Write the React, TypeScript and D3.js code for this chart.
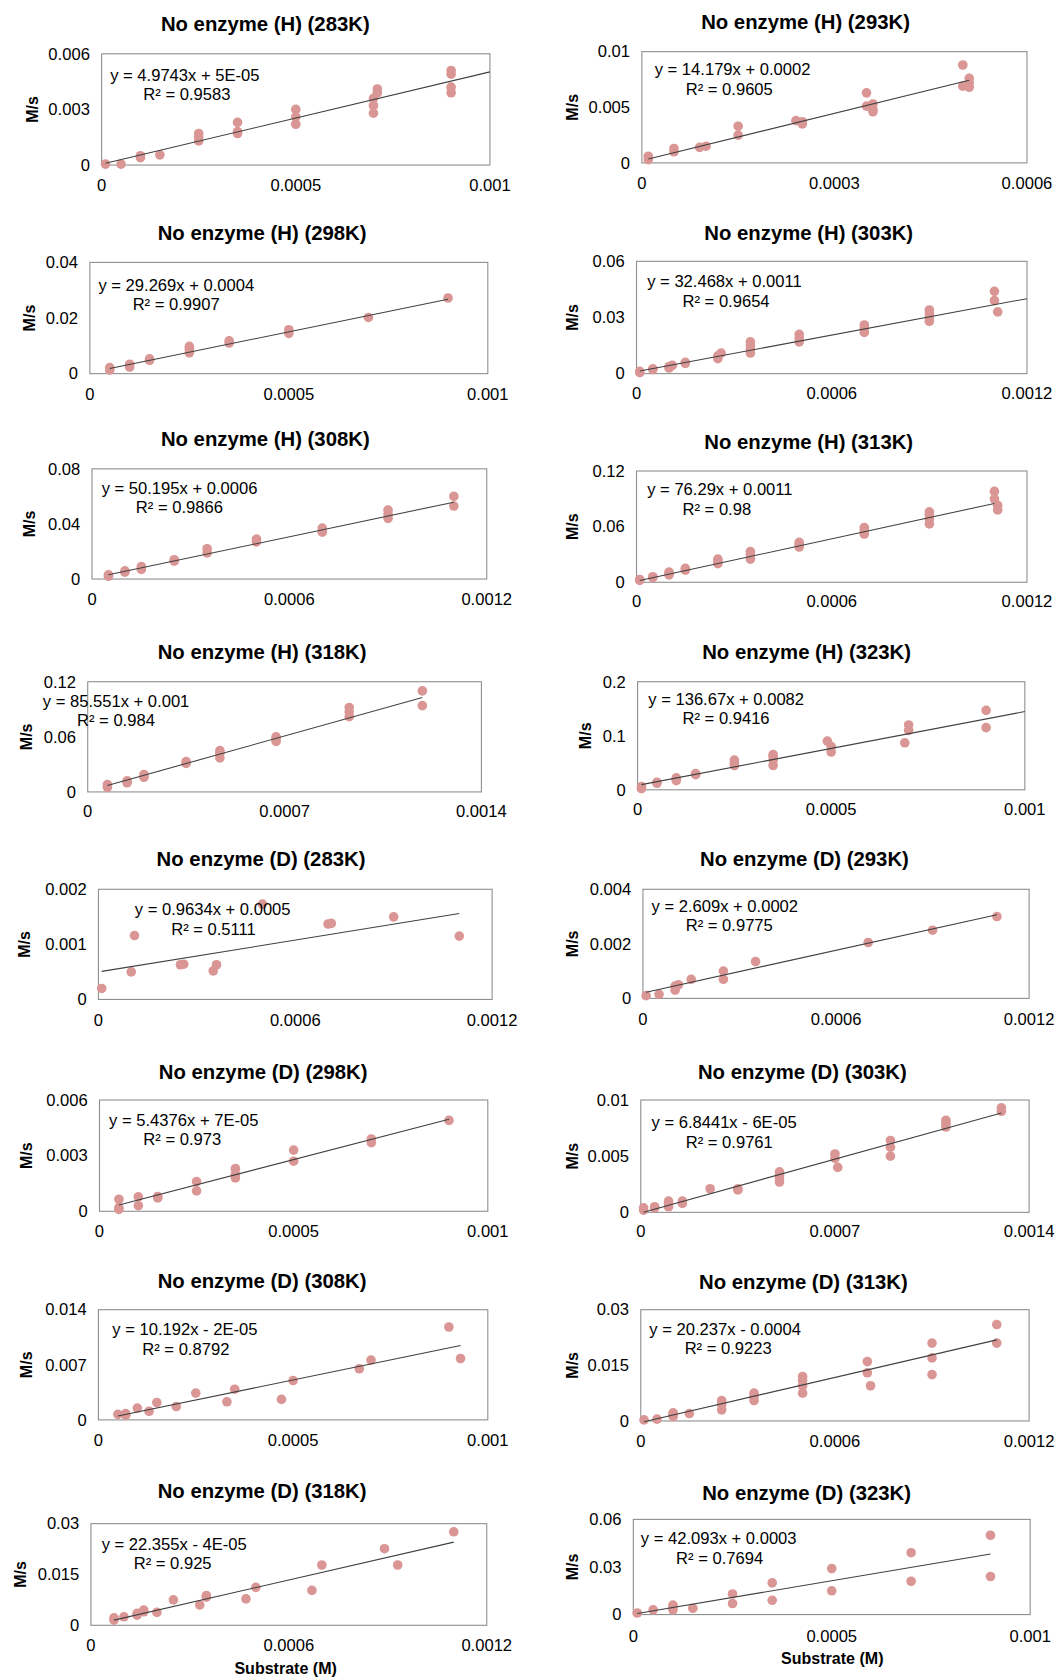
import React from 'react';
import * as d3 from 'd3';

// page is drawn in the coordinates of the 989x1568 view and scaled to 1058x1678
const VW = 989;
const VH = 1568;

const titles = [
  'No enzyme (H) (283K)', 'No enzyme (H) (293K)',
  'No enzyme (H) (298K)', 'No enzyme (H) (303K)',
  'No enzyme (H) (308K)', 'No enzyme (H) (313K)',
  'No enzyme (H) (318K)', 'No enzyme (H) (323K)',
  'No enzyme (D) (283K)', 'No enzyme (D) (293K)',
  'No enzyme (D) (298K)', 'No enzyme (D) (303K)',
  'No enzyme (D) (308K)', 'No enzyme (D) (313K)',
  'No enzyme (D) (318K)', 'No enzyme (D) (323K)',
];

const xTickLabels = [
  ['0', '0.0005', '0.001'], ['0', '0.0003', '0.0006'],
  ['0', '0.0005', '0.001'], ['0', '0.0006', '0.0012'],
  ['0', '0.0006', '0.0012'], ['0', '0.0006', '0.0012'],
  ['0', '0.0007', '0.0014'], ['0', '0.0005', '0.001'],
  ['0', '0.0006', '0.0012'], ['0', '0.0006', '0.0012'],
  ['0', '0.0005', '0.001'], ['0', '0.0007', '0.0014'],
  ['0', '0.0005', '0.001'], ['0', '0.0006', '0.0012'],
  ['0', '0.0006', '0.0012'], ['0', '0.0005', '0.001'],
];

const yTickLabels = [
  ['0', '0.003', '0.006'], ['0', '0.005', '0.01'],
  ['0', '0.02', '0.04'], ['0', '0.03', '0.06'],
  ['0', '0.04', '0.08'], ['0', '0.06', '0.12'],
  ['0', '0.06', '0.12'], ['0', '0.1', '0.2'],
  ['0', '0.001', '0.002'], ['0', '0.002', '0.004'],
  ['0', '0.003', '0.006'], ['0', '0.005', '0.01'],
  ['0', '0.007', '0.014'], ['0', '0.015', '0.03'],
  ['0', '0.015', '0.03'], ['0', '0.03', '0.06'],
];

// trendline fits: slope, intercept, x range
const slopes = [4.9743, 14.179, 29.269, 32.468, 50.195, 76.29, 85.551, 136.67,
  0.9634, 2.609, 5.4376, 6.8441, 10.192, 20.237, 22.355, 42.093];
const intercepts = [5e-5, 0.0002, 0.0004, 0.0011, 0.0006, 0.0011, 0.001, 0.0082,
  0.0005, 0.0002, 7e-5, -6e-5, -2e-5, -0.0004, -4e-5, 0.0003];
const trendFrom = [0.00001, 0.00001, 0.00005, 0.00001, 0.00005, 0.00001, 0.00007, 0.00001,
  0.00001, 0.00001, 0.00005, 0.00001, 0.00005, 0.00001, 0.00007, 0.00001];
const trendTo = [0.001, 0.00051, 0.0009, 0.0012, 0.0011, 0.0011, 0.00119, 0.001,
  0.0011, 0.0011, 0.0009, 0.0013, 0.00093, 0.0011, 0.0011, 0.0009];

const equations = [
  'y = 4.9743x + 5E-05', 'y = 14.179x + 0.0002',
  'y = 29.269x + 0.0004', 'y = 32.468x + 0.0011',
  'y = 50.195x + 0.0006', 'y = 76.29x + 0.0011',
  'y = 85.551x + 0.001', 'y = 136.67x + 0.0082',
  'y = 0.9634x + 0.0005', 'y = 2.609x + 0.0002',
  'y = 5.4376x + 7E-05', 'y = 6.8441x - 6E-05',
  'y = 10.192x - 2E-05', 'y = 20.237x - 0.0004',
  'y = 22.355x - 4E-05', 'y = 42.093x + 0.0003',
];
const rSquared = [
  'R² = 0.9583', 'R² = 0.9605', 'R² = 0.9907', 'R² = 0.9654',
  'R² = 0.9866', 'R² = 0.98', 'R² = 0.984', 'R² = 0.9416',
  'R² = 0.5111', 'R² = 0.9775', 'R² = 0.973', 'R² = 0.9761',
  'R² = 0.8792', 'R² = 0.9223', 'R² = 0.925', 'R² = 0.7694',
];

// measured points [substrate M, rate M/s]
const h283 = [[0.00001, 0.00005], [0.00005, 0.00005], [0.0001, 0.0004], [0.0001, 0.0005], [0.00015, 0.00055],
  [0.00025, 0.0013], [0.00025, 0.0015], [0.00025, 0.0017], [0.00035, 0.0017], [0.00035, 0.0018], [0.00035, 0.0023],
  [0.0005, 0.0022], [0.0005, 0.0026], [0.0005, 0.003], [0.0007, 0.0028], [0.0007, 0.0032], [0.0007, 0.0036],
  [0.00071, 0.0039], [0.00071, 0.0041], [0.0009, 0.0039], [0.0009, 0.0042], [0.0009, 0.0049], [0.0009, 0.0051]];
const h293 = [[0.00001, 0.0003], [0.00001, 0.0006], [0.00005, 0.001], [0.00005, 0.0013], [0.00009, 0.0014],
  [0.0001, 0.0015], [0.00015, 0.0025], [0.00015, 0.0033], [0.00024, 0.0038], [0.00025, 0.0035], [0.00025, 0.0037],
  [0.00035, 0.0063], [0.00035, 0.0051], [0.00036, 0.0053], [0.00036, 0.0048], [0.00036, 0.0046],
  [0.0005, 0.0088], [0.00051, 0.0076], [0.00051, 0.0072], [0.0005, 0.0069], [0.00051, 0.0068]];
const h298 = [[0.00005, 0.0013], [0.00005, 0.0022], [0.0001, 0.0024], [0.0001, 0.0034], [0.00015, 0.0048],
  [0.00015, 0.0053], [0.00025, 0.0075], [0.00025, 0.0088], [0.00025, 0.0098], [0.00035, 0.011], [0.00035, 0.0118],
  [0.0005, 0.0145], [0.0005, 0.0158], [0.0007, 0.0202], [0.0009, 0.0272]];
const h303 = [[0.00001, 0.0005], [0.00001, 0.0012], [0.00005, 0.0022], [0.00005, 0.0026], [0.0001, 0.003],
  [0.0001, 0.0038], [0.00011, 0.0044], [0.00015, 0.0055], [0.00015, 0.006], [0.00025, 0.008], [0.00025, 0.0095],
  [0.00026, 0.011], [0.00035, 0.011], [0.00035, 0.013], [0.00035, 0.015], [0.00035, 0.017], [0.0005, 0.017],
  [0.0005, 0.019], [0.0005, 0.021], [0.0007, 0.022], [0.0007, 0.024], [0.0007, 0.026], [0.0009, 0.028],
  [0.0009, 0.03], [0.0009, 0.032], [0.0009, 0.034], [0.0011, 0.044], [0.0011, 0.039], [0.00111, 0.033]];
const h308 = [[0.00005, 0.002], [0.00005, 0.003], [0.0001, 0.005], [0.0001, 0.006], [0.00015, 0.007],
  [0.00015, 0.009], [0.00025, 0.013], [0.00025, 0.014], [0.00035, 0.019], [0.00035, 0.022], [0.0005, 0.027],
  [0.0005, 0.029], [0.0007, 0.034], [0.0007, 0.037], [0.0009, 0.044], [0.0009, 0.047], [0.0009, 0.05],
  [0.0011, 0.06], [0.0011, 0.053]];
const h313 = [[0.00001, 0.002], [0.00001, 0.003], [0.00005, 0.005], [0.00005, 0.006], [0.0001, 0.008],
  [0.0001, 0.01], [0.0001, 0.011], [0.00015, 0.013], [0.00015, 0.015], [0.00025, 0.02], [0.00025, 0.023],
  [0.00025, 0.025], [0.00035, 0.025], [0.00035, 0.03], [0.00035, 0.033], [0.0005, 0.038], [0.0005, 0.041],
  [0.0005, 0.043], [0.0007, 0.052], [0.0007, 0.056], [0.0007, 0.059], [0.0009, 0.063], [0.0009, 0.068],
  [0.0009, 0.073], [0.0009, 0.076], [0.0011, 0.098], [0.0011, 0.09], [0.00111, 0.083], [0.00111, 0.078]];
const h318 = [[0.00007, 0.005], [0.00007, 0.008], [0.00014, 0.01], [0.00014, 0.012], [0.0002, 0.016],
  [0.0002, 0.019], [0.00035, 0.031], [0.00035, 0.033], [0.00047, 0.037], [0.00047, 0.042], [0.00047, 0.045],
  [0.00067, 0.055], [0.00067, 0.058], [0.00067, 0.06], [0.00093, 0.082], [0.00093, 0.087], [0.00093, 0.092],
  [0.00119, 0.094], [0.00119, 0.11]];
const h323 = [[0.00001, 0.002], [0.00001, 0.006], [0.00005, 0.012], [0.00005, 0.014], [0.0001, 0.017],
  [0.0001, 0.02], [0.0001, 0.022], [0.00015, 0.028], [0.00015, 0.03], [0.00025, 0.045], [0.00025, 0.05],
  [0.00025, 0.055], [0.00035, 0.045], [0.00035, 0.055], [0.00035, 0.062], [0.00035, 0.065], [0.0005, 0.07],
  [0.0005, 0.08], [0.00049, 0.09], [0.00069, 0.087], [0.0007, 0.11], [0.0007, 0.12], [0.0009, 0.115], [0.0009, 0.147]];
const d283 = [[0.00001, 0.0002], [0.0001, 0.0005], [0.00011, 0.00116], [0.00025, 0.00063], [0.00026, 0.00064],
  [0.00035, 0.00052], [0.00036, 0.00063], [0.0005, 0.00173], [0.0007, 0.00137], [0.00071, 0.00138],
  [0.0009, 0.0015], [0.0011, 0.00115]];
const d293 = [[0.00001, 0.0001], [0.00005, 0.00015], [0.0001, 0.0003], [0.0001, 0.00045], [0.00011, 0.0005],
  [0.00015, 0.0007], [0.00025, 0.0007], [0.00025, 0.001], [0.00035, 0.00135], [0.0007, 0.00205],
  [0.0009, 0.0025], [0.0011, 0.003]];
const d298 = [[0.00005, 0.00065], [0.00005, 0.0002], [0.00005, 0.0001], [0.0001, 0.00078], [0.0001, 0.0003],
  [0.00015, 0.0008], [0.00015, 0.00072], [0.00025, 0.0016], [0.00025, 0.0011], [0.00035, 0.0023],
  [0.00035, 0.002], [0.00035, 0.0018], [0.0005, 0.0033], [0.0005, 0.0027], [0.0007, 0.0039], [0.0007, 0.0037],
  [0.0009, 0.0049]];
const d303 = [[0.00001, 0.0002], [0.00001, 0.0004], [0.00005, 0.0004], [0.00005, 0.0005], [0.0001, 0.0005],
  [0.0001, 0.0008], [0.0001, 0.001], [0.00015, 0.0008], [0.00015, 0.001], [0.00025, 0.0021], [0.00035, 0.002],
  [0.00035, 0.0021], [0.0005, 0.0027], [0.0005, 0.003], [0.0005, 0.0033], [0.0005, 0.0036], [0.0007, 0.0052],
  [0.0007, 0.0048], [0.00071, 0.004], [0.0009, 0.0064], [0.0009, 0.0058], [0.0009, 0.005], [0.0011, 0.0082],
  [0.0011, 0.0079], [0.0011, 0.0076], [0.0013, 0.0093], [0.0013, 0.009]];
const d308 = [[0.00005, 0.0007], [0.00007, 0.0008], [0.00007, 0.0006], [0.0001, 0.0015], [0.00013, 0.0011],
  [0.00015, 0.0022], [0.0002, 0.0017], [0.00025, 0.0034], [0.00033, 0.0023], [0.00035, 0.0039],
  [0.00047, 0.0026], [0.0005, 0.005], [0.00067, 0.0065], [0.0007, 0.0076], [0.0009, 0.0118], [0.00093, 0.0078]];
const d313 = [[0.00001, 0.0003], [0.00005, 0.0005], [0.0001, 0.0012], [0.0001, 0.0018], [0.0001, 0.0022],
  [0.00015, 0.002], [0.00025, 0.0055], [0.00025, 0.0045], [0.00025, 0.003], [0.00035, 0.0075], [0.00035, 0.0065],
  [0.00035, 0.0055], [0.0005, 0.0075], [0.0005, 0.0095], [0.0005, 0.011], [0.0005, 0.012], [0.0007, 0.016],
  [0.0007, 0.013], [0.00071, 0.0095], [0.0009, 0.021], [0.0009, 0.017], [0.0009, 0.0125], [0.0011, 0.026],
  [0.0011, 0.021]];
const d318 = [[0.00007, 0.0015], [0.00007, 0.0022], [0.0001, 0.0025], [0.00014, 0.003], [0.00014, 0.0035],
  [0.00016, 0.0045], [0.00016, 0.004], [0.0002, 0.0038], [0.00025, 0.0075], [0.00033, 0.006], [0.00035, 0.0088],
  [0.00035, 0.0083], [0.00047, 0.0078], [0.0005, 0.0112], [0.00067, 0.0103], [0.0007, 0.0178],
  [0.00089, 0.0226], [0.00093, 0.0178], [0.0011, 0.0276]];
const d323 = [[0.00001, 0.001], [0.00005, 0.003], [0.0001, 0.005], [0.0001, 0.006], [0.0001, 0.003],
  [0.00015, 0.004], [0.00025, 0.013], [0.00025, 0.007], [0.00035, 0.02], [0.00035, 0.009], [0.0005, 0.015],
  [0.0005, 0.029], [0.0007, 0.039], [0.0007, 0.021], [0.0009, 0.05], [0.0009, 0.024]];

const series = [h283, h293, h298, h303, h308, h313, h318, h323,
  d283, d293, d298, d303, d308, d313, d318, d323];

// layout of each panel in view units: plot box, title, equation, axis text
const layout = [
  { x0: 95, x1: 458, y0: 50, y1: 154, tx: 248, ty: 22, ex: 103, ey: 70, rx: 134, ry: 88, lx: 30, xt: 173 },
  { x0: 600, x1: 960, y0: 48, y1: 152, tx: 753, ty: 20, ex: 612, ey: 64, rx: 641, ry: 83, lx: 535, xt: 171 },
  { x0: 84, x1: 456, y0: 245, y1: 349, tx: 245, ty: 217, ex: 92, ey: 266, rx: 124, ry: 284, lx: 27, xt: 368 },
  { x0: 595, x1: 960, y0: 244, y1: 349, tx: 756, ty: 217, ex: 605, ey: 263, rx: 638, ry: 281, lx: 535, xt: 367 },
  { x0: 86, x1: 455, y0: 438, y1: 541, tx: 248, ty: 410, ex: 95, ey: 456, rx: 127, ry: 474, lx: 27, xt: 560 },
  { x0: 595, x1: 960, y0: 440, y1: 544, tx: 756, ty: 413, ex: 605, ey: 457, rx: 638, ry: 476, lx: 535, xt: 562 },
  { x0: 82, x1: 450, y0: 637, y1: 740, tx: 245, ty: 609, ex: 40, ey: 655, rx: 72, ry: 673, lx: 25, xt: 758 },
  { x0: 596, x1: 958, y0: 637, y1: 738, tx: 754, ty: 609, ex: 606, ey: 653, rx: 638, ry: 671, lx: 547, xt: 756 },
  { x0: 92, x1: 460, y0: 831, y1: 934, tx: 244, ty: 803, ex: 126, ey: 850, rx: 160, ry: 868, lx: 23, xt: 953 },
  { x0: 601, x1: 962, y0: 831, y1: 933, tx: 752, ty: 803, ex: 609, ey: 847, rx: 641, ry: 865, lx: 535, xt: 952 },
  { x0: 93, x1: 456, y0: 1028, y1: 1132, tx: 246, ty: 1002, ex: 102, ey: 1047, rx: 134, ry: 1065, lx: 25, xt: 1151 },
  { x0: 599, x1: 962, y0: 1028, y1: 1133, tx: 750, ty: 1002, ex: 609, ey: 1049, rx: 641, ry: 1067, lx: 535, xt: 1151 },
  { x0: 92, x1: 456, y0: 1224, y1: 1327, tx: 245, ty: 1197, ex: 105, ey: 1242, rx: 133, ry: 1261, lx: 25, xt: 1346 },
  { x0: 599, x1: 962, y0: 1224, y1: 1328, tx: 751, ty: 1198, ex: 607, ey: 1242, rx: 640, ry: 1260, lx: 535, xt: 1347 },
  { x0: 85, x1: 455, y0: 1424, y1: 1519, tx: 245, ty: 1393, ex: 95, ey: 1443, rx: 125, ry: 1461, lx: 19, xt: 1538 },
  { x0: 592, x1: 963, y0: 1420, y1: 1509, tx: 754, ty: 1395, ex: 599, ey: 1438, rx: 632, ry: 1456, lx: 535, xt: 1529 },
];
// x-axis titles only under the last row
const axisTitles = [
  { panel: 14, x: 267, y: 1559 },
  { panel: 15, x: 778, y: 1550 },
];

const markerColor = '#d99694';
const font = "'Liberation Sans', Arial, sans-serif";

function Panel({ i }: { i: number }) {
  const L = layout[i];
  const xt = xTickLabels[i];
  const yt = yTickLabels[i];
  const x = d3.scaleLinear().domain([0, +xt[2]]).range([L.x0, L.x1]);
  const y = d3.scaleLinear().domain([0, +yt[2]]).range([L.y1, L.y0]);
  const fit = (v: number) => slopes[i] * v + intercepts[i];
  const line = d3.line<number>().x(v => x(v)).y(v => y(fit(v)));

  return (
    <g>
      <text x={L.tx} y={L.ty} dy="0.35em" textAnchor="middle" fontSize={19} fontWeight="bold">
        {titles[i]}
      </text>
      <rect x={L.x0} y={L.y0} width={L.x1 - L.x0} height={L.y1 - L.y0}
        fill="#fff" stroke="#8c8c8c" strokeWidth={1} />
      {yt.map(t => (
        <text key={t} x={L.x0 - 11} y={y(+t)} dy="0.35em" textAnchor="end" fontSize={15.5}>{t}</text>
      ))}
      {xt.map(t => (
        <text key={t} x={x(+t)} y={L.xt} dy="0.35em" textAnchor="middle" fontSize={15.5}>{t}</text>
      ))}
      <text transform={`translate(${L.lx},${(L.y0 + L.y1) / 2}) rotate(-90)`} dy="0.35em"
        textAnchor="middle" fontSize={15} fontWeight="bold">M/s</text>
      {series[i].map((d, k) => (
        <circle key={k} cx={x(d[0])} cy={y(d[1])} r={4.5} fill={markerColor} />
      ))}
      <path d={line([trendFrom[i], trendTo[i]]) || ''} stroke="#404040" strokeWidth={1} fill="none" />
      <text x={L.ex} y={L.ey} dy="0.35em" fontSize={15.5}>{equations[i]}</text>
      <text x={L.rx} y={L.ry} dy="0.35em" fontSize={15.5}>{rSquared[i]}</text>
    </g>
  );
}

export default function App() {
  return (
    <div style={{ position: 'absolute', left: 0, top: 0 }}>
      <svg width={1058} height={1678} viewBox={`0 0 ${VW} ${VH}`}
        style={{ display: 'block', background: '#fff' }} fontFamily={font} fill="#000">
        <rect x={0} y={0} width={VW} height={VH} fill="#fff" />
        {titles.map((_, i) => <Panel key={i} i={i} />)}
        {axisTitles.map(a => (
          <text key={a.panel} x={a.x} y={a.y} dy="0.35em" textAnchor="middle" fontSize={15} fontWeight="bold">
            Substrate (M)
          </text>
        ))}
      </svg>
    </div>
  );
}
